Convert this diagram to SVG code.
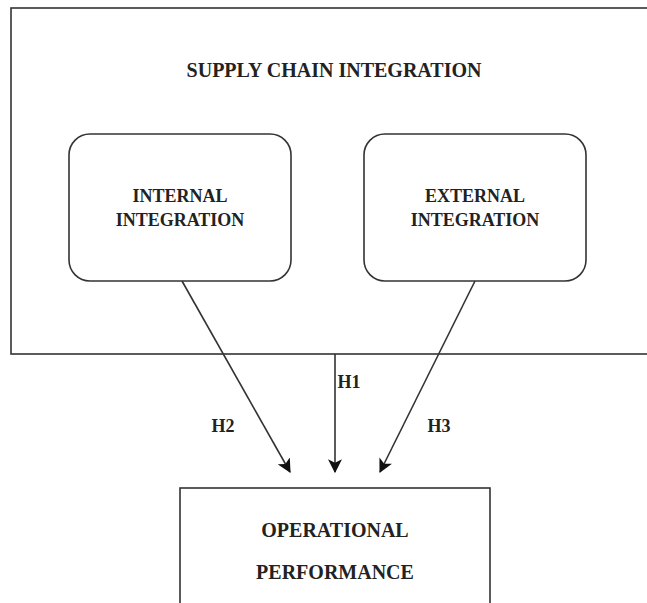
<svg xmlns="http://www.w3.org/2000/svg" width="647" height="603" viewBox="0 0 647 603">
<defs>
<style>
.box{fill:#fff;stroke:#333;stroke-width:1.6}
.t{font-family:"Liberation Serif","Times New Roman",serif;font-weight:bold;fill:#222;text-anchor:middle}
.conn{stroke:#333;stroke-width:1.6;fill:none}
</style>
<marker id="arr" viewBox="0 0 12 12" refX="11" refY="6" markerWidth="14" markerHeight="14" markerUnits="userSpaceOnUse" orient="auto">
<path d="M0,0 L12,6 L0,12 L3,6 Z" fill="#111"/>
</marker>
</defs>
<rect width="647" height="603" fill="#fff"/>
<g id="supply-chain-integration">
<rect class="box" x="11" y="8" width="660" height="346"/>
<text class="t" x="334" y="77" font-size="20">SUPPLY CHAIN INTEGRATION</text>
</g>
<g id="internal-integration">
<rect class="box" x="69" y="134" width="222" height="147" rx="21" ry="21"/>
<text class="t" x="180" y="202" font-size="18">INTERNAL</text>
<text class="t" x="180" y="226" font-size="18">INTEGRATION</text>
</g>
<g id="external-integration">
<rect class="box" x="364" y="134" width="222" height="147" rx="21" ry="21"/>
<text class="t" x="475" y="202" font-size="18">EXTERNAL</text>
<text class="t" x="475" y="226" font-size="18">INTEGRATION</text>
</g>
<g id="operational-performance">
<rect class="box" x="180" y="488" width="310" height="130"/>
<text class="t" x="335" y="537" font-size="20">OPERATIONAL</text>
<text class="t" x="335" y="579" font-size="20">PERFORMANCE</text>
</g>
<g id="connectors">
<line class="conn" x1="182" y1="281" x2="290" y2="472" marker-end="url(#arr)"/>
<line class="conn" x1="335" y1="354" x2="335" y2="472" marker-end="url(#arr)"/>
<line class="conn" x1="475" y1="281" x2="380" y2="472" marker-end="url(#arr)"/>
<text class="t" x="349" y="388" font-size="18">H1</text>
<text class="t" x="223" y="432" font-size="18">H2</text>
<text class="t" x="439" y="432" font-size="18">H3</text>
</g>
</svg>
